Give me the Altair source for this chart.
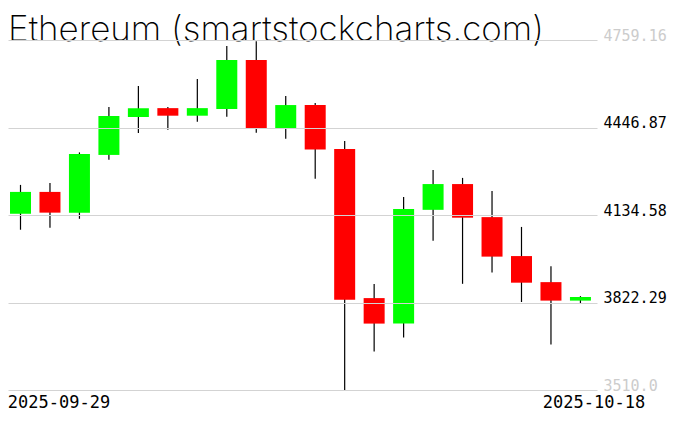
import altair as alt
import pandas as pd

dates = ["2025-09-29", "2025-09-30", "2025-10-01", "2025-10-02", "2025-10-03",
         "2025-10-04", "2025-10-05", "2025-10-06", "2025-10-07", "2025-10-08",
         "2025-10-09", "2025-10-10", "2025-10-11", "2025-10-12", "2025-10-13",
         "2025-10-14", "2025-10-15", "2025-10-16", "2025-10-17", "2025-10-18"]
opens = [4139, 4217, 4143, 4349, 4484, 4516, 4489, 4513, 4688, 4445,
         4527, 4370, 3838, 3747, 4153, 4245, 4127, 3988, 3895, 3829]
highs = [4242, 4249, 4358, 4520, 4595, 4520, 4620, 4738, 4755, 4559,
         4534, 4399, 3888, 4199, 4295, 4267, 4220, 4092, 3952, 3845]
lows = [4082, 4089, 4121, 4332, 4427, 4439, 4467, 4485, 4428, 4407,
        4264, 3510, 3647, 3697, 4043, 3889, 3929, 3824, 3672, 3819]
closes = [4217, 4143, 4352, 4488, 4516, 4489, 4516, 4688, 4445, 4527,
          4368, 3832, 3747, 4156, 4245, 4125, 3986, 3893, 3829, 3842]

y_ticks = [3510.0, 3822.29, 4134.58, 4446.87, 4759.16]
y_tick_labels = ["3510.0", "3822.29", "4134.58", "4446.87", "4759.16"]
date_tick_idx = [0, 19]

df = pd.DataFrame({
    "idx": list(range(len(dates))),
    "date": dates,
    "open": opens,
    "high": highs,
    "low": lows,
    "close": closes,
})
df["dir"] = ["up" if c >= o else "down" for o, c in zip(opens, closes)]

date_expr = "[" + ",".join(f"'{d}'" for d in dates) + "][datum.value]"
ylab_expr = " : ".join(
    f"datum.value == {v} ? '{t}'" for v, t in zip(y_ticks, y_tick_labels)
) + " : ''"
extreme_test = f"datum.value == {y_ticks[0]} || datum.value == {y_ticks[-1]}"

x_scale = alt.Scale(domain=[-0.4242, 19.562], nice=False, zero=False, padding=0)
y_scale = alt.Scale(domain=[y_ticks[0], y_ticks[-1]], nice=False, zero=False, padding=0)

x_enc = alt.X(
    "idx:Q", scale=x_scale, title=None,
    axis=alt.Axis(
        values=date_tick_idx, labelExpr=date_expr, grid=False, domain=False,
        ticks=False, labelFont="DejaVu Sans Mono", labelFontSize=17,
        labelColor="#000000", labelPadding=4, labelAlign="center",
        labelOffset={"condition": {"test": "datum.value == 0", "value": 38}, "value": 13},
        labelFlush=False, labelOverlap=False,
    ),
)

base = alt.Chart(df)

wicks = base.mark_rule(color="#000000", strokeWidth=1.2).encode(
    x=x_enc,
    y=alt.Y("low:Q", scale=y_scale, title=None,
            axis=alt.Axis(
                orient="right", values=y_ticks, labelExpr=ylab_expr,
                grid=True, gridColor="#d3d3d3", gridWidth=1.2,
                domain=False, ticks=False, zindex=1,
                labelFont="DejaVu Sans Mono", labelFontSize=15,
                labelAlign="left", labelBaseline="alphabetic", labelPadding=6,
                labelColor={"condition": {"test": extreme_test, "value": "#cccccc"}, "value": "#000000"},
                labelFlush=False, labelOverlap=False,
            )),
    y2="high:Q",
)

bodies = base.mark_bar(size=21).encode(
    x=alt.X("idx:Q", scale=x_scale),
    y=alt.Y("open:Q", scale=y_scale),
    y2="close:Q",
    color=alt.Color("dir:N", scale=alt.Scale(domain=["up", "down"], range=["#00ff00", "#ff0000"]), legend=None),
)

chart = alt.layer(wicks, bodies).properties(
    width=589,
    height=350,
    autosize=alt.AutoSizeParams(type="none"),
    padding={"left": 0, "top": 32, "right": 71, "bottom": 25},
    title=alt.TitleParams(
        "Ethereum (smartstockcharts.com)", anchor="start", frame="group",
        font="Inter", fontWeight=200, fontSize=35, color="#000000",
        baseline="alphabetic", offset=-48, dx=0,
    ),
).configure_view(stroke=None)

chart.save("out.html", embed_options={"renderer": "svg", "actions": False})
